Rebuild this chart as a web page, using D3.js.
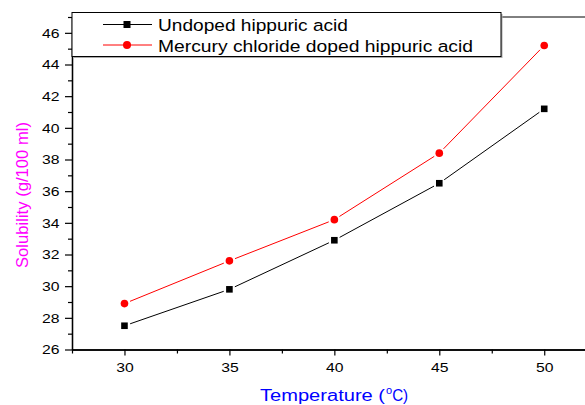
<!DOCTYPE html>
<html><head><meta charset="utf-8">
<script src="https://cdn.jsdelivr.net/npm/d3@7/dist/d3.min.js"></script>
<style>body{margin:0;background:#fff;overflow:hidden}svg{display:block;overflow:hidden}text{font-family:"Liberation Sans",Arial,sans-serif}</style>
</head><body><svg id="c" width="585" height="405"></svg>
<script>
const temps = [30, 35, 40, 45, 50];
const undoped = [27.5, 29.8, 32.9, 36.5, 41.2];
const doped = [28.9, 31.6, 34.2, 38.4, 45.2];
const seriesNames = ["Undoped hippuric acid", "Mercury chloride doped hippuric acid"];
const xTicks = [30, 35, 40, 45, 50];
const xMinor = [27.5, 32.5, 37.5, 42.5, 47.5];
const yTicks = [26, 28, 30, 32, 34, 36, 38, 40, 42, 44, 46];
const yMinor = [27, 29, 31, 33, 35, 37, 39, 41, 43, 45, 47];

const svg = d3.select("#c");
const L = 72, T = 17, B = 349.5, R = 596.7;
const x = d3.scaleLinear().domain([27.5, 52.5]).range([L, R]);
const y = d3.scaleLinear().domain([26, 47]).range([B, T]);

// frame top
svg.append("line").attr("x1", L).attr("x2", 585).attr("y1", T).attr("y2", T).attr("stroke", "#000");

// x axis
const gx = svg.append("g").attr("transform", `translate(0,${B})`);
gx.call(d3.axisBottom(x).tickValues(xTicks).tickSize(6).tickSizeOuter(0).tickFormat(d3.format("d")));
gx.append("g").call(d3.axisBottom(x).tickValues(xMinor).tickSize(4).tickSizeOuter(0).tickFormat(""));
gx.selectAll("path.domain").attr("stroke", "#000").attr("stroke-width", 1.3);
gx.selectAll("text").attr("font-size", 13).attr("dy", "1.0em").attr("fill", "#000")
  .attr("textLength", 17.5).attr("lengthAdjust", "spacingAndGlyphs");
gx.selectAll("line").attr("stroke-width", 1.2);

// y axis
const gy = svg.append("g").attr("transform", `translate(${L},0)`);
gy.call(d3.axisLeft(y).tickValues(yTicks).tickSize(7).tickSizeOuter(0).tickFormat(d3.format("d")));
gy.append("g").call(d3.axisLeft(y).tickValues(yMinor).tickSize(4).tickSizeOuter(0).tickFormat(""));
gy.selectAll("path.domain").attr("stroke", "#000").attr("stroke-width", 1.3);
gy.selectAll("text").attr("font-size", 13).attr("dx", "-0.2em").attr("fill", "#000")
  .attr("textLength", 17.5).attr("lengthAdjust", "spacingAndGlyphs");
gy.selectAll("line").attr("stroke-width", 1.2);

// titles
svg.append("text").attr("transform", "translate(28,195) rotate(-90)").attr("text-anchor", "middle")
  .attr("font-size", 16).attr("fill", "#ff00ff")
  .attr("textLength", 146).attr("lengthAdjust", "spacingAndGlyphs").text("Solubility (g/100 ml)");
const xt = svg.append("text").attr("x", 260).attr("y", 401)
  .attr("font-size", 16).attr("fill", "#0000ff");
xt.append("tspan").attr("textLength", 125).attr("lengthAdjust", "spacingAndGlyphs").text("Temperature (");
xt.append("tspan").attr("font-size", 11).attr("dy", -7).attr("dx", 1).text("o");
xt.append("tspan").attr("dy", 7).attr("textLength", 16).attr("lengthAdjust", "spacingAndGlyphs").text("C)");

// series
const series = [
  {vals: undoped, color: "#000", shape: "square"},
  {vals: doped, color: "#ff0000", shape: "circle"}
];
const gap = 6;
series.forEach(s => {
  const pts = temps.map((t, i) => [x(t), y(s.vals[i])]);
  for (let i = 0; i < pts.length - 1; i++) {
    const [x1, y1] = pts[i], [x2, y2] = pts[i+1];
    const dx = x2 - x1, dy = y2 - y1, len = Math.hypot(dx, dy);
    const ux = dx/len, uy = dy/len;
    svg.append("line").attr("x1", x1+ux*gap).attr("y1", y1+uy*gap).attr("x2", x2-ux*gap).attr("y2", y2-uy*gap)
      .attr("stroke", s.color).attr("stroke-width", 1);
  }
  pts.forEach(p => {
    if (s.shape === "square") svg.append("rect").attr("x", p[0]-3.3).attr("y", p[1]-3.3).attr("width", 6.6).attr("height", 6.6).attr("fill", s.color);
    else svg.append("circle").attr("cx", p[0]).attr("cy", p[1]).attr("r", 3.8).attr("fill", s.color);
  });
});

// legend
const lg = svg.append("g");
lg.append("rect").attr("x", 73.5).attr("y", 14).attr("width", 429).attr("height", 44).attr("fill", "#aaa");
lg.append("rect").attr("x", 72).attr("y", 12.5).attr("width", 429).attr("height", 44).attr("fill", "#fff").attr("stroke", "#000").attr("stroke-width", 1);
const rows = [24.5, 45];
const widths = [190, 315];
series.forEach((s, i) => {
  lg.append("line").attr("x1", 103).attr("x2", 152).attr("y1", rows[i]).attr("y2", rows[i]).attr("stroke", s.color).attr("stroke-width", 1);
  if (s.shape === "square") lg.append("rect").attr("x", 123.5).attr("y", rows[i]-3.5).attr("width", 7).attr("height", 7).attr("fill", s.color);
  else lg.append("circle").attr("cx", 127).attr("cy", rows[i]).attr("r", 4).attr("fill", s.color);
  lg.append("text").attr("x", 158).attr("y", rows[i] + 6.5).attr("font-size", 16.3).attr("fill", "#000")
    .attr("textLength", widths[i]).attr("lengthAdjust", "spacingAndGlyphs").text(seriesNames[i]);
});
</script></body></html>
